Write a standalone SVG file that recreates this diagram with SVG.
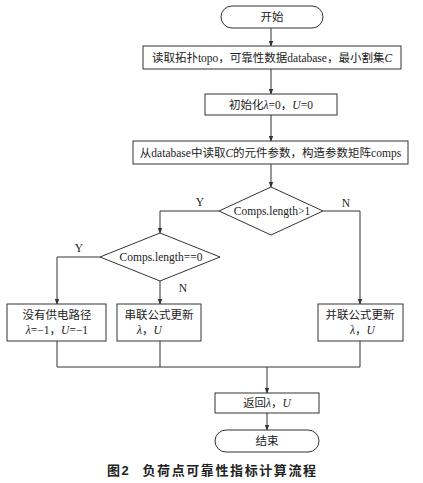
<svg xmlns="http://www.w3.org/2000/svg" width="423" height="483" viewBox="0 0 423 483">
<defs>
<style>
.s{fill:#fff;stroke:#333;stroke-width:1}
.t{font-family:"Liberation Serif","Noto Sans CJK SC",serif;font-size:11.5px;fill:#222;text-anchor:middle}
.i{font-style:italic}
.c{fill:none;stroke:#333;stroke-width:1}
.cap{font-family:"Liberation Sans","Noto Sans CJK SC",sans-serif;font-size:13px;font-weight:bold;fill:#222;letter-spacing:1.6px}
</style>
<marker id="a" viewBox="0 0 8 8" refX="7" refY="4" markerWidth="6" markerHeight="6" orient="auto" markerUnits="userSpaceOnUse">
<path d="M0,1 L8,4 L0,7 Z" fill="#333"/>
</marker>
</defs>
<rect width="423" height="483" fill="#fff"/>
<g id="connectors">
<path class="c" d="M271,28 V46" marker-end="url(#a)"/>
<path class="c" d="M271,69 V94" marker-end="url(#a)"/>
<path class="c" d="M271,115 V141" marker-end="url(#a)"/>
<path class="c" d="M271,164 V187" marker-end="url(#a)"/>
<path class="c" d="M219,211 H160 V233" marker-end="url(#a)"/>
<path class="c" d="M323,211 H360 V304" marker-end="url(#a)"/>
<path class="c" d="M100,257 H57 V304" marker-end="url(#a)"/>
<path class="c" d="M160,281 V304" marker-end="url(#a)"/>
<path class="c" d="M57,341 V367 H360 V341"/>
<path class="c" d="M160,341 V367"/>
<path class="c" d="M267,367 V393" marker-end="url(#a)"/>
<path class="c" d="M267,413 V430" marker-end="url(#a)"/>
<text class="t" x="200" y="206">Y</text>
<text class="t" x="346" y="207">N</text>
<text class="t" x="79" y="252">Y</text>
<text class="t" x="183" y="292">N</text>
</g>
<g id="start">
<rect class="s" x="221" y="6" width="102" height="22" rx="11"/>
<text class="t" x="272" y="21">开始</text>
</g>
<g id="read">
<rect class="s" x="143" y="46" width="258" height="23"/>
<text class="t" x="272" y="61.5">读取拓扑topo，可靠性数据database，最小割集<tspan class="i">C</tspan></text>
</g>
<g id="init">
<rect class="s" x="205" y="94" width="132" height="21"/>
<text class="t" x="271" y="108.5">初始化<tspan class="i">λ</tspan>=0，<tspan class="i">U</tspan>=0</text>
</g>
<g id="comps">
<rect class="s" x="133" y="141" width="275" height="23"/>
<text class="t" x="270.5" y="156.5">从database中读取<tspan class="i">C</tspan>的元件参数，构造参数矩阵comps</text>
</g>
<g id="d1">
<polygon class="s" points="271,187 323,211 271,235 219,211"/>
<text class="t" x="272" y="215">Comps.length&gt;1</text>
</g>
<g id="d2">
<polygon class="s" points="160,233 220,257 160,281 100,257"/>
<text class="t" x="161" y="261">Comps.length==0</text>
</g>
<g id="nopath">
<rect class="s" x="7" y="304" width="99" height="37"/>
<text class="t" x="57" y="319">没有供电路径</text>
<text class="t" x="57" y="334"><tspan class="i">λ</tspan>=−1，<tspan class="i">U</tspan>=−1</text>
</g>
<g id="series">
<rect class="s" x="117" y="304" width="84" height="37"/>
<text class="t" x="159" y="319">串联公式更新</text>
<text class="t" x="137" y="334" style="text-anchor:start"><tspan class="i">λ</tspan>，<tspan class="i">U</tspan></text>
</g>
<g id="parallel">
<rect class="s" x="318" y="304" width="85" height="37"/>
<text class="t" x="360" y="319">并联公式更新</text>
<text class="t" x="350" y="334" style="text-anchor:start"><tspan class="i">λ</tspan>，<tspan class="i">U</tspan></text>
</g>
<g id="ret">
<rect class="s" x="215" y="393" width="104" height="20"/>
<text class="t" x="267" y="407">返回<tspan class="i">λ</tspan>，<tspan class="i">U</tspan></text>
</g>
<g id="end">
<rect class="s" x="215" y="430" width="104" height="22" rx="11"/>
<text class="t" x="267" y="445">结束</text>
</g>
<text class="cap" x="107" y="475">图2<tspan dx="12">负荷点可靠性指标计算流程</tspan></text>
</svg>
